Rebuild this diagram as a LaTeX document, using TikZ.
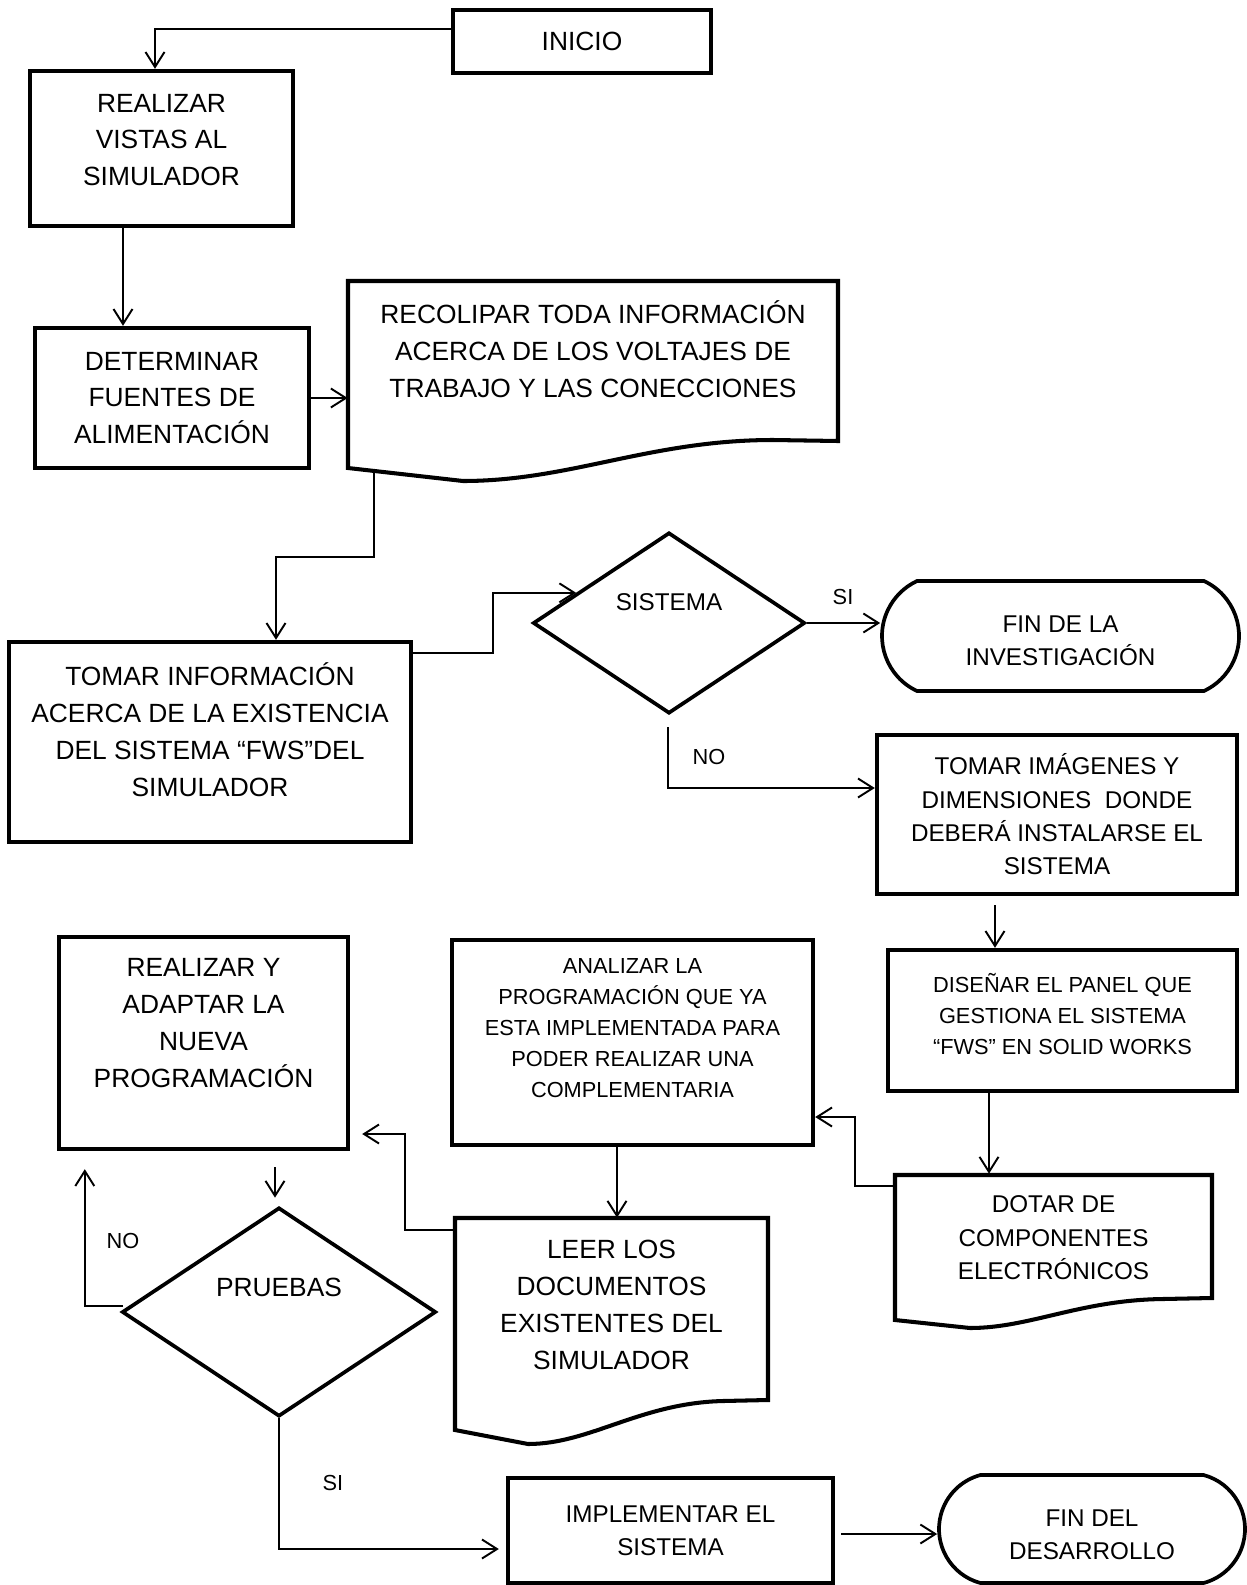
\documentclass[tikz,border=0pt]{standalone}
\usepackage{fontspec}
\setmainfont{Liberation Sans}
\usetikzlibrary{arrows.meta,positioning,shapes.geometric,shapes.misc,calc}
\newcommand\fbig{\fontsize{15}{21}\selectfont}
\newcommand\fmid{\fontsize{13.8}{19}\selectfont}
\newcommand\fsmall{\fontsize{12.4}{17.6}\selectfont}
\tikzset{
  >={Straight Barb[length=3mm,width=3.8mm]},
  wh/.style 2 args={minimum width=#1*0.02cm,minimum height=#2*0.02cm},
  box/.style={draw,line width=2.5pt,inner sep=0pt,align=center,font=\fbig},
  docbox/.style={inner sep=0pt,align=center,font=\fbig},
  docline/.style={line width=2.3pt,line join=miter},
  decision/.style={diamond,draw,line width=2.1pt,inner sep=0pt},
  terminal/.style={rounded rectangle,draw,line width=2.1pt,inner sep=0pt},
  txt/.style={align=center,font=\fbig,inner sep=0pt},
  lbl/.style={font=\fsmall,inner sep=0pt},
  flow/.style={->,line width=1.1pt},
}
\begin{document}
\begin{tikzpicture}[x=0.02cm,y=-0.02cm]
  \useasboundingbox (0,0) rectangle (1247,1585);

  \node[box,wh={258}{63}] (inicio) at (582,41.5) {INICIO};
  \node[box,wh={263}{155}] (vistas) at (161.5,148.5) {};
  \node[txt] (vistas-t) at (161.5,140) {REALIZAR\\VISTAS AL\\SIMULADOR};
  \node[box,wh={274}{140}] (fuentes) at (172,398) {DETERMINAR\\FUENTES DE\\ALIMENTACIÓN};

  \draw[docline] (348,281) -- (838,281) -- (838,441) -- (773,440)
    .. controls (650,440) and (570,481) .. (463,481) -- (348,468) -- cycle;
  \node[docbox,wh={490}{136}] (recol) at (593,349) {RECOLIPAR TODA INFORMACIÓN\\ACERCA DE LOS VOLTAJES DE\\TRABAJO Y LAS CONECCIONES};
  \coordinate (recol-b) at (374,471);

  \node[box,wh={402}{200}] (tomarinfo) at (210,742) {};
  \node[txt] (tomarinfo-t) at (210,730) {TOMAR INFORMACIÓN\\ACERCA DE LA EXISTENCIA\\DEL SISTEMA “FWS”DEL\\SIMULADOR};

  \node[decision,wh={272}{181}] (sistema) at (669,623) {};
  \node[txt,font=\fmid] (sistema-t) at (669,602) {SISTEMA};
  \node[terminal,wh={357}{110},rounded rectangle arc length=130] (fininv) at (1060.5,636) {};
  \node[txt,font=\fmid] (fininv-t) at (1060.5,641) {FIN DE LA\\INVESTIGACIÓN};

  \node[box,font=\fmid,wh={360}{159}] (tomarimg) at (1057,814.5) {TOMAR IMÁGENES Y\\DIMENSIONES \ DONDE\\DEBERÁ INSTALARSE EL\\SISTEMA};
  \node[box,wh={349}{141}] (disenar) at (1062.5,1020.5) {};
  \node[txt,font=\fsmall] (disenar-t) at (1062.5,1014) {DISEÑAR EL PANEL QUE\\GESTIONA EL SISTEMA\\“FWS” EN SOLID WORKS};

  \draw[docline] (895,1175) -- (1212,1175) -- (1212,1298) -- (1163,1299)
    .. controls (1080,1300) and (1030,1328) .. (970,1328) -- (895,1320) -- cycle;
  \node[docbox,font=\fmid,wh={317}{128}] (dotar) at (1053.5,1238) {DOTAR DE\\COMPONENTES\\ELECTRÓNICOS};

  \node[box,wh={361}{205}] (analizar) at (632.5,1042.5) {};
  \node[txt,font=\fsmall] (analizar-t) at (632.5,1028) {ANALIZAR LA\\PROGRAMACIÓN QUE YA\\ESTA IMPLEMENTADA PARA\\PODER REALIZAR UNA\\COMPLEMENTARIA};

  \draw[docline] (455,1218) -- (768,1218) -- (768,1400) -- (723,1401)
    .. controls (640,1403) and (590,1444) .. (528,1444) -- (455,1430) -- cycle;
  \node[docbox,wh={313}{174}] (leer) at (611.5,1305) {LEER LOS\\DOCUMENTOS\\EXISTENTES DEL\\SIMULADOR};

  \node[box,wh={289}{212}] (realizar) at (203.5,1043) {};
  \node[txt] (realizar-t) at (203.5,1023) {REALIZAR Y\\ADAPTAR LA\\NUEVA\\PROGRAMACIÓN};

  \node[decision,wh={314}{209}] (pruebas) at (279,1312) {};
  \node[txt] (pruebas-t) at (279,1287) {PRUEBAS};

  \node[box,font=\fmid,wh={325}{105}] (implementar) at (670.5,1530.5) {IMPLEMENTAR EL\\SISTEMA};
  \node[terminal,wh={306}{108},rounded rectangle arc length=150] (findes) at (1092,1529) {};
  \node[txt,font=\fmid] (findes-t) at (1092,1535) {FIN DEL\\DESARROLLO};

  \draw[flow] ($(inicio.west)+(0,-12.5)$) -| ($(vistas.north)+(-6.5,0)$);
  \draw[flow] ($(vistas.south)+(-38.5,0)$) coordinate (v1) -- (v1 |- fuentes.north);
  \draw[flow] (fuentes) -- (fuentes -| recol.west);
  \draw[flow] (recol-b) -- ++(0,86) -| ($(tomarinfo.north)+(66,0)$);
  \draw[flow] ($(tomarinfo.north east)+(0,13)$) -- ++(80,0) |- (sistema.162);
  \draw[flow] (sistema.east) -- (sistema.east -| fininv.west);
  \node[lbl] (si1) at (843,597) {SI};
  \draw[flow] ($(sistema.south)+(-1,12)$) |- ($(tomarimg.west)+(0,-26.5)$);
  \node[lbl] (no1) at (709,757) {NO};
  \draw[flow,shorten <=1.8mm] ($(tomarimg.south)+(-62,0)$) coordinate (t1) -- (t1 |- disenar.north);
  \draw[flow] ($(disenar.south)+(-73.5,0)$) coordinate (d1) -- (d1 |- dotar.north);
  \draw[flow] ($(dotar.north west)+(1,12)$) -- ++(-41,0) |- ($(analizar.east)+(0,74.5)$);
  \draw[flow] ($(analizar.south)+(-15.5,0)$) coordinate (a1) -- (a1 |- leer.north);
  \draw[flow,shorten >=2.4mm] ($(leer.north west)+(0,12)$) -- ++(-50,0) |- ($(realizar.east)+(0,91)$);
  \draw[flow,shorten <=3.2mm,shorten >=1.6mm] ($(realizar.south)+(71.5,0)$) coordinate (r1) -- (r1 |- pruebas.north);
  \draw[flow,shorten >=3.6mm] ($(pruebas.west)+(3,-6)$) -| ($(realizar.south west)+(28,0)$);
  \node[lbl] (no2) at (123,1241) {NO};
  \draw[flow,shorten >=1.4mm] (pruebas.south) |- ($(implementar.west)+(0,18.5)$);
  \node[lbl] (si2) at (333,1483) {SI};
  \draw[flow,shorten <=1.2mm] ($(implementar.east)+(0,3.5)$) coordinate (i1) -- (i1 -| findes.west);
\end{tikzpicture}
\end{document}
